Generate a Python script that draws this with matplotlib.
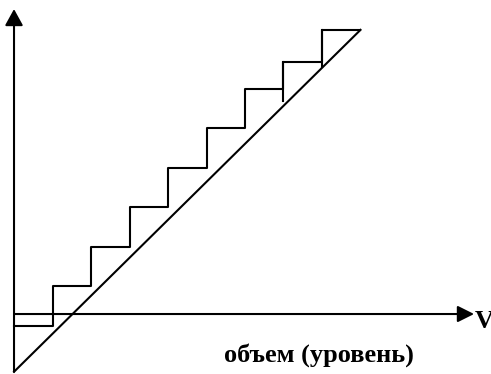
import matplotlib.pyplot as plt

# ступенчатая характеристика (в единицах шага)
step_x = [0, 1, 2, 3, 4, 5, 6, 7, 8, 9]
step_y = [-0.31, 0.73, 1.74, 2.78, 3.79, 4.83, 5.84, 6.55, 7.38, 7.38]
# продолжения вертикалей вниз до прямой
tick_x = [7, 8]
tick_low = [5.53, 6.42]
# прямая
line_x = [0, 9]
line_y = [-1.5, 7.38]

x_label = 'объем (уровень)'
v_label = 'V'

fig = plt.figure(figsize=(4.91, 3.74), dpi=100)
ax = fig.add_axes([0, 0, 1, 1])
ax.set_xlim(-0.364, 12.39)
ax.set_ylim(-1.558, 8.156)
ax.axis('off')

lw = 1.5
# оси со стрелками
ax.annotate('', xy=(11.95, 0), xytext=(0, 0),
            arrowprops=dict(arrowstyle='-|>,head_length=1.0,head_width=0.5',
                            lw=lw, color='black', shrinkA=0, shrinkB=0))
ax.annotate('', xy=(0, 7.92), xytext=(0, -1.5),
            arrowprops=dict(arrowstyle='-|>,head_length=1.0,head_width=0.55',
                            lw=lw, color='black', shrinkA=0, shrinkB=0))

# лесенка
ax.step(step_x, step_y, where='post', color='black', lw=lw)
for x, lo, hi in zip(tick_x, tick_low, step_y[7:9]):
    ax.plot([x, x], [lo, hi], color='black', lw=lw)
# прямая
ax.plot(line_x, line_y, color='black', lw=lw)

ax.text(7.92, -1.065, x_label, ha='center', va='center',
        fontsize=19, fontweight='bold', family='Liberation Serif')
ax.text(11.97, -0.2, v_label, ha='left', va='center',
        fontsize=19, fontweight='bold', family='Liberation Serif')

fig.savefig('out.png', dpi=100)
